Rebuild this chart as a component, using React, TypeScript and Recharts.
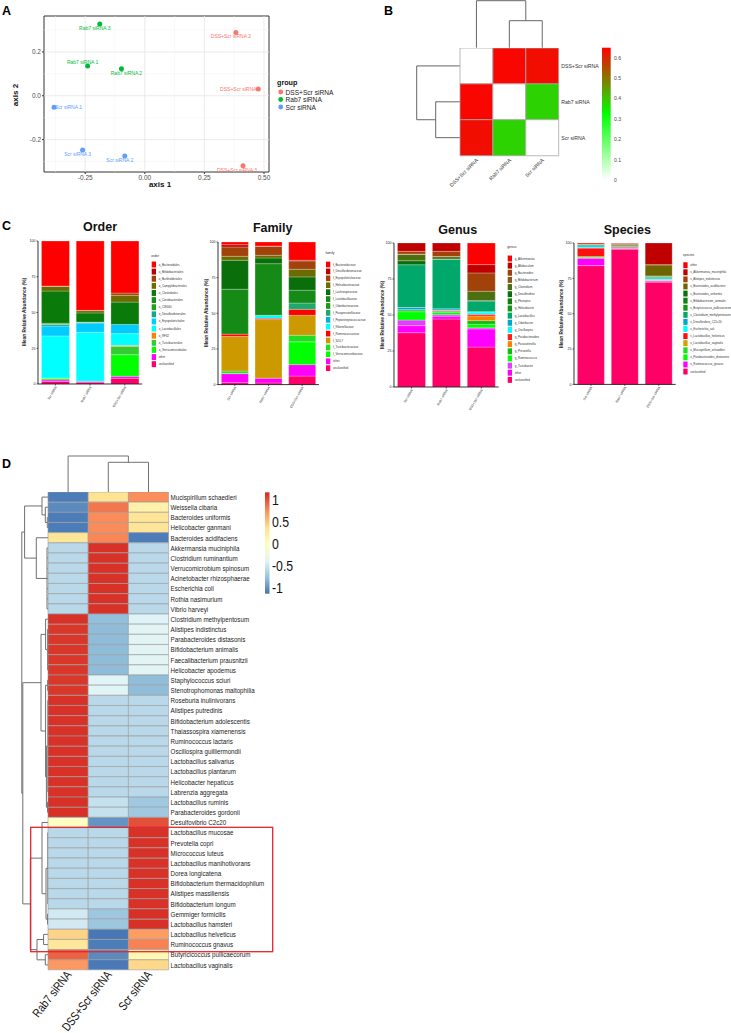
import React from 'react';
import {
  ScatterChart, Scatter, BarChart, Bar, Cell, XAxis, YAxis, ReferenceLine, ReferenceArea,
} from 'recharts';

const SANS = '"Liberation Sans", Arial, Helvetica, sans-serif';
// narrow look: Liberation Sans squeezed horizontally
const SQUEEZE = 0.82;

// ---------- A: PCoA ----------
const groupNames = ['DSS+Scr siRNA', 'Rab7 siRNA', 'Scr siRNA'];
const groupColors = ['#F8766D', '#00BA38', '#619CFF'];
const pcoaSamples = ['DSS+Scr siRNA 1', 'DSS+Scr siRNA 2', 'DSS+Scr siRNA 3', 'Rab7 siRNA 1', 'Rab7 siRNA 2', 'Rab7 siRNA 3', 'Scr siRNA 1', 'Scr siRNA 2', 'Scr siRNA 3'];
const pcoaGroup = [0, 0, 0, 1, 1, 1, 2, 2, 2];
const pcoaAxis1 = [0.476, 0.382, 0.412, -0.24, -0.098, -0.189, -0.381, -0.084, -0.261];
const pcoaAxis2 = [0.031, 0.289, -0.32, 0.136, 0.123, 0.327, -0.053, -0.275, -0.248];
const axis1Ticks = [-0.25, 0, 0.25, 0.5];
const axis1Minor = [-0.375, -0.125, 0.125, 0.375];
const axis2Ticks = [-0.2, 0, 0.2];
const axis2Minor = [-0.3, -0.1, 0.1, 0.3];

// label placement next to each point: dx, dy, anchor
const labelPlace: Record<string, [number, number, 'start' | 'middle' | 'end']> = {
  'DSS+Scr siRNA 1': [2, 0, 'end'],
  'DSS+Scr siRNA 2': [-5, 4, 'middle'],
  'DSS+Scr siRNA 3': [-6, 4, 'middle'],
  'Rab7 siRNA 1': [-5, -3.5, 'middle'],
  'Rab7 siRNA 2': [5, 4, 'middle'],
  'Rab7 siRNA 3': [-5, 4, 'middle'],
  'Scr siRNA 1': [1, 0, 'start'],
  'Scr siRNA 2': [-5, 4, 'middle'],
  'Scr siRNA 3': [-5, 4, 'middle'],
};

// ---------- B: distance heatmap ----------
const distNames = ['DSS+Scr siRNA', 'Rab7 siRNA', 'Scr siRNA'];
const distDss = [0, 0.64, 0.63];
const distRab7 = [0.64, 0, 0.38];
const distScr = [0.63, 0.38, 0];
const distTicks = [0, 0.1, 0.2, 0.3, 0.4, 0.5, 0.6];

// ---------- C: stacked abundance ----------
const stackGroups = ['Scr siRNA', 'Rab7 siRNA', 'DSS+Scr siRNA'];

const orderTaxa = ['o_Bacteroidales', 'o_Bifidobacteriales', 'o_Burkholderiales', 'o_Campylobacterales', 'o_Clostridiales', 'o_Coriobacteriales', 'o_CW040', 'o_Desulfovibrionales', 'o_Erysipelotrichales', 'o_Lactobacillales', 'o_RF32', 'o_Turicibacterales', 'o_Verrucomicrobiales', 'other', 'unclassified'];
const orderColors = ['#FF0000', '#C00000', '#A0420A', '#6B6B00', '#0A7A0A', '#158F15', '#1FA01F', '#17A589', '#00CCFF', '#00FFFF', '#FF7F00', '#33CC33', '#00FF00', '#FF00FF', '#FF0066'];
const orderScr = [31.5, 0, 0.2, 3.3, 22.5, 0.5, 0.3, 1.2, 6.9, 29.4, 0.1, 0.4, 0.9, 1.0, 1.8];
const orderRab7 = [48.5, 0, 0.2, 1.6, 6.4, 0.2, 0.2, 0.2, 6.5, 34.2, 0, 0.1, 0, 0.6, 1.3];
const orderDss = [36.4, 0, 1.6, 4.7, 15.6, 0, 0, 0, 6.5, 8.2, 0.7, 5.8, 15.1, 1.4, 4.0];

const familyTaxa = ['f_Bacteroidaceae', 'f_Desulfovibrionaceae', 'f_Erysipelotrichaceae', 'f_Helicobacteraceae', 'f_Lachnospiraceae', 'f_Lactobacillaceae', 'f_Odoribacteraceae', 'f_Paraprevotellaceae', 'f_Peptostreptococcaceae', 'f_Rikenellaceae', 'f_Ruminococcaceae', 'f_S24-7', 'f_Turicibacteraceae', 'f_Verrucomicrobiaceae', 'other', 'unclassified'];
const familyColors = ['#FF0000', '#C00000', '#A0420A', '#6B6B00', '#0A6E0A', '#168A16', '#1A9A1A', '#1FA86A', '#00B5C8', '#00FFFF', '#FF0000', '#CC9900', '#22DD22', '#00FF00', '#FF00FF', '#FF0066'];
const familyScr = [1.9, 1.6, 6.5, 2.8, 20.3, 31.5, 0, 0, 0, 0, 1.6, 24.3, 1.6, 0.2, 6.3, 1.4];
const familyRab7 = [2.8, 0.3, 6.2, 1.9, 4.0, 36.2, 0, 0, 0, 2.1, 0.9, 41.1, 0, 0, 3.3, 1.2];
const familyDss = [12.8, 0.5, 5.8, 5.4, 9.3, 9.0, 0, 4.4, 0, 0, 4.2, 14.0, 4.6, 16.0, 8.0, 6.0];

const genusTaxa = ['g_Akkermansia', 'g_Allobaculum', 'g_Bacteroides', 'g_Bifidobacterium', 'g_Clostridium', 'g_Desulfovibrio', 'g_Flexispira', 'g_Helicobacter', 'g_Lactobacillus', 'g_Odoribacter', 'g_Oscillospira', 'g_Parabacteroides', 'g_Parasutterella', 'g_Prevotella', 'g_Ruminococcus', 'g_Turicibacter', 'other', 'unclassified'];
const genusColors = ['#FF0000', '#C00000', '#A0420A', '#8C5A14', '#4C7010', '#0A6E0A', '#0F800F', '#139513', '#00A86B', '#00AACC', '#00FFFF', '#FF2020', '#FF8000', '#11BB11', '#00FF00', '#E040FB', '#FF00FF', '#FF0066'];
const genusScr = [0, 5.8, 1.9, 0.3, 4.3, 2.8, 0, 0, 29.6, 1.6, 0.2, 0, 0, 1.2, 5.8, 3.9, 4.9, 37.7];
const genusRab7 = [0, 5.8, 3.5, 0.2, 1.6, 0.3, 0, 0, 34.3, 0.9, 0.2, 0.7, 0, 0.7, 1.6, 1.0, 2.0, 47.2];
const genusDss = [15.0, 5.8, 12.7, 0, 6.5, 0.3, 0, 0, 7.4, 0.2, 1.6, 1.2, 3.2, 2.5, 2.5, 0.8, 12.6, 27.7];

const speciesTaxa = ['other', 's_Akkermansia_muciniphila', 's_Alistipes_indistinctus', 's_Bacteroides_acidifaciens', 's_Bacteroides_uniformis', 's_Bifidobacterium_animalis', 's_Butyricicoccus_pullicaecorum', 's_Clostridium_methylpentosum', 's_Desulfovibrio_C21c20', 's_Escherichia_coli', 's_Lactobacillus_helveticus', 's_Lactobacillus_vaginalis', 's_Mucispirillum_schaedleri', 's_Parabacteroides_distasonis', 's_Ruminococcus_gnavus', 'unclassified'];
const speciesColors = ['#FF0000', '#C00000', '#A0420A', '#6E6400', '#0A6E0A', '#0F800F', '#159515', '#00A86B', '#00AACC', '#00FFFF', '#FF1010', '#D4A000', '#22DD22', '#00FF00', '#FF00FF', '#FF0066'];
const speciesScr = [0.7, 0, 0, 0.3, 0.2, 0, 0.2, 0.7, 0.8, 0.7, 6.0, 0.2, 0.2, 0.8, 5.2, 84.0];
const speciesRab7 = [0.3, 0.3, 0.2, 0.8, 0.7, 0.2, 0.2, 0.2, 0, 0, 0.6, 0, 0, 0.2, 0.7, 95.6];
const speciesDss = [0, 15.3, 0.2, 7.8, 0.3, 0.2, 0.4, 1.0, 0.3, 0.6, 0.2, 0.2, 0.2, 0.2, 0.8, 72.3];

// ---------- D: species z-score heatmap ----------
const dCols = ['Rab7 siRNA', 'DSS+Scr siRNA', 'Scr siRNA'];
const dSpecies = ['Mucispirillum schaedleri', 'Weissella cibaria', 'Bacteroides uniformis', 'Helicobacter ganmani', 'Bacteroides acidifaciens', 'Akkermansia muciniphila', 'Clostridium ruminantium', 'Verrucomicrobium spinosum', 'Acinetobacter rhizosphaerae', 'Escherichia coli', 'Rothia nasimurium', 'Vibrio harveyi', 'Clostridium methylpentosum', 'Alistipes indistinctus', 'Parabacteroides distasonis', 'Bifidobacterium animalis', 'Faecalibacterium prausnitzii', 'Helicobacter apodemus', 'Staphylococcus sciuri', 'Stenotrophomonas maltophilia', 'Roseburia inulinivorans', 'Alistipes putredinis', 'Bifidobacterium adolescentis', 'Thalassospira xiamenensis', 'Ruminococcus lactaris', 'Oscillospira guilliermondii', 'Lactobacillus salivarius', 'Lactobacillus plantarum', 'Helicobacter hepaticus', 'Labrenzia aggregata', 'Lactobacillus ruminis', 'Parabacteroides gordonii', 'Desulfovibrio C2c20', 'Lactobacillus mucosae', 'Prevotella copri', 'Micrococcus luteus', 'Lactobacillus manihotivorans', 'Dorea longicatena', 'Bifidobacterium thermacidophilum', 'Alistipes massiliensis', 'Bifidobacterium longum', 'Gemmiger formicilis', 'Lactobacillus hamsteri', 'Lactobacillus helveticus', 'Ruminococcus gnavus', 'Butyricicoccus pullicaecorum', 'Lactobacillus vaginalis'];
const dRab7 = [-1.12, -1.05, -1.12, -1.12, 0.32, -0.58, -0.58, -0.58, -0.58, -0.58, -0.58, -0.58, 1.155, 1.13, 1.13, 1.13, 1.13, 1.13, 1.13, 1.13, 1.155, 1.155, 1.155, 1.155, 1.155, 1.155, 1.155, 1.155, 1.155, 1.155, 1.16, 1.16, -0.03, -0.58, -0.58, -0.58, -0.58, -0.58, -0.58, -0.58, -0.58, -0.46, -0.46, 0.45, 0.3, 0.95, 0.72];
const dDss = [0.35, 0.87, 0.78, 0.78, 0.8, 1.155, 1.155, 1.155, 1.155, 1.155, 1.155, 1.155, -0.77, -0.79, -0.79, -0.79, -0.79, -0.79, -0.37, -0.37, -0.58, -0.58, -0.58, -0.58, -0.58, -0.58, -0.58, -0.58, -0.58, -0.58, -0.52, -0.52, -1.0, -0.58, -0.58, -0.58, -0.58, -0.58, -0.58, -0.58, -0.58, -0.715, -0.715, -1.15, -1.12, -1.05, -1.14];
const dScr = [0.77, 0.18, 0.34, 0.34, -1.12, -0.58, -0.58, -0.58, -0.58, -0.58, -0.58, -0.58, -0.39, -0.36, -0.36, -0.36, -0.36, -0.36, -0.78, -0.78, -0.58, -0.58, -0.58, -0.58, -0.58, -0.58, -0.58, -0.58, -0.58, -0.58, -0.7, -0.7, 1.03, 1.155, 1.155, 1.155, 1.155, 1.155, 1.155, 1.155, 1.155, 1.16, 1.16, 0.7, 0.82, 0.1, 0.42];
const dLegendTicks = [1, 0.5, 0, -0.5, -1];

// ---------- dendrograms ----------
type Tree = number | { h: number; ch: Tree[] };
type Seg = [number, number, number, number];

const bColTree: Tree = { h: 47, ch: [0, { h: 27, ch: [1, 2] }] };
const bRowTree: Tree = { h: 43.3, ch: [0, { h: 24.3, ch: [1, 2] }] };
const dColTree: Tree = { h: 36.3, ch: [0, { h: 30, ch: [1, 2] }] };
const dRowTree: Tree = {
  h: 26.2,
  ch: [
    {
      h: 23.4,
      ch: [
        { h: 6, ch: [0, { h: 2.7, ch: [1, { h: 0.7, ch: [2, 3] }] }] },
        { h: 11.7, ch: [4, { h: 1.0, ch: [5, 6, 7, 8, 9, 10, 11] }] },
      ],
    },
    {
      h: 25.2,
      ch: [
        {
          h: 7,
          ch: [
            { h: 2.4, ch: [12, { h: 0.4, ch: [13, 14, 15, 16, 17] }] },
            { h: 2.4, ch: [{ h: 0.4, ch: [18, 19] }, { h: 1.6, ch: [{ h: 0.15, ch: [20, 21, 22, 23, 24, 25, 26, 27, 28, 29] }, { h: 0.5, ch: [30, 31] }] }] },
          ],
        },
        {
          h: 17.7,
          ch: [
            { h: 6, ch: [32, { h: 2, ch: [{ h: 0.2, ch: [33, 34, 35, 36, 37, 38, 39, 40] }, { h: 0.5, ch: [41, 42] }] }] },
            { h: 11, ch: [{ h: 4.4, ch: [43, 44] }, { h: 2.7, ch: [45, 46] }] },
          ],
        },
      ],
    },
  ],
};

function walk(t: Tree, segs: Seg[]): { pos: number; h: number } {
  if (typeof t === 'number') return { pos: t + 0.5, h: 0 };
  const kids = t.ch.map((c) => walk(c, segs));
  kids.forEach((k) => segs.push([k.pos, k.h, k.pos, t.h]));
  const lo = kids[0].pos;
  const hi = kids[kids.length - 1].pos;
  segs.push([lo, t.h, hi, t.h]);
  return { pos: (lo + hi) / 2, h: t.h };
}

function hexToRgb(h: string) {
  const n = parseInt(h.slice(1), 16);
  return [(n >> 16) & 255, (n >> 8) & 255, n & 255];
}
function mix(a: string, b: string, t: number) {
  const A = hexToRgb(a);
  const B = hexToRgb(b);
  const c = A.map((v, i) => Math.round(v + (B[i] - v) * t));
  return `rgb(${c[0]},${c[1]},${c[2]})`;
}

const heatPalette = ['#4575B4', '#91BFDB', '#E0F3F8', '#FFFFBF', '#FEE090', '#FC8D59', '#D73027'];
const heatLo = -1.16;
const heatHi = 1.16;
function heatColor(v: number) {
  const p = Math.max(0, Math.min(6, ((v - heatLo) / (heatHi - heatLo)) * 6));
  const i = Math.min(5, Math.floor(p));
  return mix(heatPalette[i], heatPalette[i + 1], p - i);
}

const distMax = 0.648;
function distColor(v: number) {
  const t = v / distMax;
  if (t <= 0.5) return mix('#FFFFFF', '#00FF00', t / 0.5);
  return mix('#00FF00', '#FF0000', Math.min(1, (t - 0.5) / 0.5));
}

function Dendro({ tree, n, hMax, side, left, top, width, height, color }: {
  tree: Tree; n: number; hMax: number; side: 'top' | 'left'; left: number; top: number; width: number; height: number; color: string;
}) {
  const segs: Seg[] = [];
  walk(tree, segs);
  const isTop = side === 'top';
  return (
    <div style={{ position: 'absolute', left, top }}>
      <ScatterChart width={width} height={height} margin={{ top: 0, right: 0, bottom: 0, left: 0 }}>
        <XAxis type="number" dataKey="x" domain={isTop ? [0, n] : [0, hMax]} reversed={!isTop} allowDataOverflow hide />
        <YAxis type="number" dataKey="y" domain={isTop ? [0, hMax] : [0, n]} reversed={!isTop} allowDataOverflow hide />
        {segs.map(([p1, h1, p2, h2], i) => (
          <ReferenceLine
            key={i}
            segment={isTop ? [{ x: p1, y: h1 }, { x: p2, y: h2 }] : [{ x: h1, y: p1 }, { x: h2, y: p2 }]}
            stroke={color}
            strokeWidth={1}
            ifOverflow="visible"
          />
        ))}
      </ScatterChart>
    </div>
  );
}

function PcoaPanel() {
  const series = groupNames.map((g, gi) =>
    pcoaSamples
      .map((s, i) => ({ name: s, x: pcoaAxis1[i], y: pcoaAxis2[i], g: pcoaGroup[i] }))
      .filter((p) => p.g === gi),
  );
  return (
    <div style={{ position: 'absolute', left: 0, top: 0 }}>
      <ScatterChart width={275} height={195} margin={{ top: 16, right: 6, bottom: 0, left: 0 }}>
        <XAxis type="number" dataKey="x" domain={[-0.423, 0.521]} ticks={axis1Ticks} allowDataOverflow
          tickFormatter={(v: number) => v.toFixed(2)} height={23} axisLine={false}
          tickLine={{ stroke: '#333' }} tickSize={2} tickMargin={1}
          tick={{ fontSize: 6.5, fill: '#4d4d4d', fontFamily: SANS }} />
        <YAxis type="number" dataKey="y" domain={[-0.348, 0.364]} ticks={axis2Ticks} allowDataOverflow
          tickFormatter={(v: number) => v.toFixed(1)} width={44} axisLine={false}
          tickLine={{ stroke: '#333' }} tickSize={2} tickMargin={1}
          tick={{ fontSize: 6.5, fill: '#4d4d4d', fontFamily: SANS }} />
        {axis1Minor.map((v) => <ReferenceLine key={'xm' + v} x={v} stroke="#f3f3f3" strokeWidth={0.5} />)}
        {axis2Minor.map((v) => <ReferenceLine key={'ym' + v} y={v} stroke="#f3f3f3" strokeWidth={0.5} />)}
        {axis1Ticks.map((v) => <ReferenceLine key={'x' + v} x={v} stroke="#e6e6e6" strokeWidth={0.8} />)}
        {axis2Ticks.map((v) => <ReferenceLine key={'y' + v} y={v} stroke="#e6e6e6" strokeWidth={0.8} />)}
        <ReferenceArea x1={-0.423} x2={0.521} y1={-0.348} y2={0.364} fill="#fff" fillOpacity={0} stroke="#333" strokeWidth={1} ifOverflow="visible" />
        {series.map((pts, gi) => (
          <Scatter
            key={gi}
            data={pts}
            fill={groupColors[gi]}
            isAnimationActive={false}
            shape={(p: any) => {
              const [dx, dy, anchor] = labelPlace[p.payload.name];
              return (
                <g>
                  <text x={p.cx + dx} y={p.cy + dy} textAnchor={anchor} dominantBaseline="central"
                    fontSize={5} fill={groupColors[gi]} fontFamily={SANS}>{p.payload.name}</text>
                  <circle cx={p.cx} cy={p.cy} r={2.5} fill={groupColors[gi]} />
                </g>
              );
            }}
          />
        ))}
      </ScatterChart>
    </div>
  );
}

function DistHeat() {
  const data = distNames.map((n) => ({ name: n, c0: 1, c1: 1, c2: 1 }));
  const matrix = [distDss, distRab7, distScr];
  const padL = 24;
  return (
    <div style={{ position: 'absolute', left: 460 - padL, top: 47.7 }}>
      <BarChart layout="vertical" width={padL + 98.7 + 62} height={107.6 + 40} data={data}
        margin={{ top: 0, right: 0, bottom: 0, left: padL }} barCategoryGap={0} barGap={0}>
        <XAxis type="number" domain={[0, 3]} ticks={[0.5, 1.5, 2.5]} height={40} axisLine={false}
          tickLine={false} tickSize={0} tickMargin={0} interval={0}
          tick={(p: any) => (
            <text x={p.x + 2} y={p.y + 5} transform={`rotate(-45 ${p.x + 2} ${p.y + 5})`} textAnchor="end"
              fontSize={5.2} fill="#333" fontFamily={SANS}>{distNames[Math.floor(p.payload.value)]}</text>
          )} />
        <YAxis type="category" dataKey="name" orientation="right" width={62} axisLine={false}
          tickLine={false} tickSize={0} tickMargin={0} interval={0}
          tick={(p: any) => (
            <text x={p.x + 2.5} y={p.y} dominantBaseline="central" fontSize={5.2} fill="#333"
              fontFamily={SANS}>{p.payload.value}</text>
          )} />
        {[0, 1, 2].map((j) => (
          <Bar key={j} dataKey={'c' + j} stackId="h" isAnimationActive={false}>
            {data.map((_, i) => <Cell key={i} fill={distColor(matrix[i][j])} stroke="#a8a8a8" strokeWidth={0.8} />)}
          </Bar>
        ))}
      </BarChart>
    </div>
  );
}

function StackPanel({ taxa, colors, values, axisX, plotR, top, bottom }: {
  taxa: string[]; colors: string[]; values: number[][]; axisX: number; plotR: number; top: number; bottom: number;
}) {
  const yW = 14;
  const xH = 24;
  const mTop = 4;
  const data = stackGroups.map((g, gi) => {
    const row: Record<string, number | string> = { name: g };
    taxa.forEach((_, ti) => {
      row['t' + ti] = values[gi][ti];
    });
    return row;
  });
  const stackOrder = taxa.map((_, i) => taxa.length - 1 - i);
  return (
    <div style={{ position: 'absolute', left: axisX - yW, top: top - mTop }}>
      <BarChart width={yW + plotR - axisX + 2} height={mTop + bottom - top + xH} data={data}
        margin={{ top: mTop, right: 2, bottom: 0, left: 0 }} barCategoryGap="10%">
        <XAxis dataKey="name" height={xH} axisLine={{ stroke: '#000', strokeWidth: 0.8 }}
          tickLine={{ stroke: '#000', strokeWidth: 0.6 }} tickSize={1.5} tickMargin={0} interval={0}
          tick={(p: any) => (
            <text x={p.x + 1.5} y={p.y + 1.5} transform={`rotate(-60 ${p.x + 1.5} ${p.y + 1.5})`}
              textAnchor="end" fontSize={3.3} fill="#333" fontFamily={SANS}>{p.payload.value}</text>
          )} />
        <YAxis type="number" width={yW} domain={[0, 100]} ticks={[0, 25, 50, 75, 100]}
          axisLine={{ stroke: '#000', strokeWidth: 0.8 }} tickLine={{ stroke: '#000', strokeWidth: 0.6 }}
          tickSize={1.5} tickMargin={1} tick={{ fontSize: 3.6, fill: '#222', fontFamily: SANS }} />
        {stackOrder.map((ti) => (
          <Bar key={ti} dataKey={'t' + ti} stackId="s" fill={colors[ti]} stroke="#fff" strokeWidth={0.25}
            isAnimationActive={false} />
        ))}
      </BarChart>
    </div>
  );
}

function SpeciesHeat() {
  const data = dSpecies.map((n) => ({ name: n, c0: 1, c1: 1, c2: 1 }));
  const cols = [dRab7, dDss, dScr];
  const padL = 46;
  return (
    <div style={{ position: 'absolute', left: 47.7 - padL, top: 492.3 }}>
      <BarChart layout="vertical" width={padL + 120.6 + 112} height={478 + 72} data={data}
        margin={{ top: 0, right: 0, bottom: 0, left: padL }} barCategoryGap={0} barGap={0}>
        <XAxis type="number" domain={[0, 3]} ticks={[0.5, 1.5, 2.5]} height={72} axisLine={false}
          tickLine={false} tickSize={0} tickMargin={0} interval={0}
          tick={(p: any) => (
            <text transform={`translate(${p.x + 4} ${p.y + 5}) rotate(-52) scale(${SQUEEZE} 1)`} textAnchor="end"
              fontSize={12.2} fill="#111" fontFamily={SANS}>{dCols[Math.floor(p.payload.value)]}</text>
          )} />
        <YAxis type="category" dataKey="name" orientation="right" width={112} axisLine={false}
          tickLine={false} tickSize={0} tickMargin={0} interval={0}
          tick={(p: any) => (
            <text transform={`translate(${p.x + 2} ${p.y}) scale(${SQUEEZE} 1)`} dominantBaseline="central"
              fontSize={7.6} fill="#1a1a1a" fontFamily={SANS}>{p.payload.value}</text>
          )} />
        {cols.map((vals, j) => (
          <Bar key={j} dataKey={'c' + j} stackId="h" isAnimationActive={false}>
            {vals.map((v, i) => <Cell key={i} fill={heatColor(v)} stroke="#9a9a9a" strokeWidth={0.6} />)}
          </Bar>
        ))}
      </BarChart>
    </div>
  );
}

function LegendList({ title, taxa, colors, x, titleY, y0, step }: {
  title: string; taxa: string[]; colors: string[]; x: number; titleY: number; y0: number; step: number;
}) {
  return (
    <g fontFamily={SANS}>
      <text x={x} y={titleY} fontSize={3.4} fill="#333" dominantBaseline="central">{title}</text>
      {taxa.map((t, i) => (
        <g key={t}>
          <rect x={x + 0.5} y={y0 + i * step - (step - 1.2) / 2} width={4.3} height={step - 1.2} fill={colors[i]} />
          <text x={x + 7.5} y={y0 + i * step} fontSize={2.9} fill="#333" dominantBaseline="central">{t}</text>
        </g>
      ))}
    </g>
  );
}

function Overlay() {
  const dTop = 492.3;
  const dBot = 593.7;
  const dHi = 1.19;
  const dLo = -1.12;
  const dY = (v: number) => dTop + ((dHi - v) / (dHi - dLo)) * (dBot - dTop);
  const bTop = 47.7;
  const bBot = 180;
  const bY = (v: number) => bBot - (v / distMax) * (bBot - bTop);
  const panelLetter = { fontSize: 12.5, fontWeight: 700, fill: '#000', fontFamily: SANS } as const;
  const titleStyle = { fontSize: 12.5, fontWeight: 700, fill: '#111', fontFamily: SANS, textAnchor: 'middle' as const, dominantBaseline: 'central' as const };
  const yTitle = (x: number, y: number) => (
    <text x={x} y={y} transform={`rotate(-90 ${x} ${y})`} textAnchor="middle" dominantBaseline="central"
      fontSize={4.8} fontWeight={700} fill="#222" fontFamily={SANS}>Mean Relative Abundance (%)</text>
  );
  return (
    <svg width={731} height={1033} style={{ position: 'absolute', left: 0, top: 0, pointerEvents: 'none' }}>
      <defs>
        <linearGradient id="dGrad" x1="0" y1="0" x2="0" y2="1">
          {heatPalette.map((c, k) => {
            const v = heatHi - (k * (heatHi - heatLo)) / 6;
            const off = Math.max(0, Math.min(1, (dHi - v) / (dHi - dLo)));
            return <stop key={k} offset={off} stopColor={heatPalette[6 - k]} />;
          })}
        </linearGradient>
        <linearGradient id="bGrad" x1="0" y1="0" x2="0" y2="1">
          <stop offset="0" stopColor="#FF0000" />
          <stop offset="0.5" stopColor="#00FF00" />
          <stop offset="1" stopColor="#FFFFFF" />
        </linearGradient>
      </defs>

      {/* panel letters */}
      <text x={2} y={15} {...panelLetter}>A</text>
      <text x={384} y={15} {...panelLetter}>B</text>
      <text x={2} y={230} {...panelLetter}>C</text>
      <text x={2} y={468} {...panelLetter}>D</text>

      {/* A titles and legend */}
      <text x={160} y={184} textAnchor="middle" dominantBaseline="central" fontSize={8} fontWeight={700} fill="#111" fontFamily={SANS}>axis 1</text>
      <text x={15} y={95} transform="rotate(-90 15 95)" textAnchor="middle" dominantBaseline="central" fontSize={8} fontWeight={700} fill="#111" fontFamily={SANS}>axis 2</text>
      <text x={277} y={82} dominantBaseline="central" fontSize={7.2} fontWeight={700} fill="#111" fontFamily={SANS}>group</text>
      {groupNames.map((g, i) => (
        <g key={g}>
          <circle cx={280.7} cy={92 + i * 7.5} r={2.4} fill={groupColors[i]} />
          <text x={285.5} y={92 + i * 7.5} dominantBaseline="central" fontSize={6.6} fill="#1a1a1a" fontFamily={SANS}>{g}</text>
        </g>
      ))}

      {/* B colour bar */}
      <rect x={602} y={bTop} width={8.7} height={bBot - bTop} fill="url(#bGrad)" />
      {distTicks.map((v) => (
        <text key={v} x={614} y={bY(v)} dominantBaseline="central" fontSize={5} fill="#444" fontFamily={SANS}>{v === 0 ? '0' : v.toFixed(1)}</text>
      ))}

      {/* C titles, axis titles, legends */}
      <text x={100} y={227} {...titleStyle}>Order</text>
      <text x={272.7} y={228} {...titleStyle}>Family</text>
      <text x={457.7} y={230} {...titleStyle}>Genus</text>
      <text x={627.3} y={230} {...titleStyle}>Species</text>
      {yTitle(24, 312)}
      {yTitle(206.7, 313)}
      {yTitle(382.3, 315)}
      {yTitle(561.7, 314)}
      <LegendList title="order" taxa={orderTaxa} colors={orderColors} x={151.2} titleY={256} y0={264.5} step={7.12} />
      <LegendList title="family" taxa={familyTaxa} colors={familyColors} x={325.5} titleY={252.7} y0={264.5} step={6.91} />
      <LegendList title="genus" taxa={genusTaxa} colors={genusColors} x={507.2} titleY={247.3} y0={258.5} step={7.14} />
      <LegendList title="species" taxa={speciesTaxa} colors={speciesColors} x={682.8} titleY={255} y0={265.2} step={7.09} />

      {/* D colour bar */}
      <rect x={265} y={dTop} width={4.5} height={dBot - dTop} fill="url(#dGrad)" />
      {dLegendTicks.map((v) => (
        <text key={v} transform={`translate(272 ${dY(v)}) scale(0.88 1)`} dominantBaseline="central" fontSize={14} fill="#111" fontFamily={SANS}>{String(v)}</text>
      ))}

      {/* highlighted block */}
      <rect x={30.7} y={827.3} width={242} height={124.4} fill="none" stroke="#E5252B" strokeWidth={1.3} />
    </svg>
  );
}

export default function App() {
  return (
    <div style={{ position: 'absolute', left: 0, top: 0, width: 731, height: 1033, background: '#fff', fontFamily: SANS }}>
      <PcoaPanel />
      <Dendro tree={bColTree} n={3} hMax={47.7} side="top" left={460} top={0} width={98.7} height={47.7} color="#666" />
      <Dendro tree={bRowTree} n={3} hMax={48} side="left" left={412} top={47.7} width={48} height={107.6} color="#666" />
      <DistHeat />
      <StackPanel taxa={orderTaxa} colors={orderColors} values={[orderScr, orderRab7, orderDss]} axisX={38.3} plotR={142.5} top={240.7} bottom={383.7} />
      <StackPanel taxa={familyTaxa} colors={familyColors} values={[familyScr, familyRab7, familyDss]} axisX={217.5} plotR={318.5} top={241.7} bottom={384.3} />
      <StackPanel taxa={genusTaxa} colors={genusColors} values={[genusScr, genusRab7, genusDss]} axisX={394.3} plotR={499} top={243.3} bottom={387.3} />
      <StackPanel taxa={speciesTaxa} colors={speciesColors} values={[speciesScr, speciesRab7, speciesDss]} axisX={574.3} plotR={676} top={243.3} bottom={384.7} />
      <Dendro tree={dColTree} n={3} hMax={42.3} side="top" left={47.7} top={450} width={120.6} height={42.3} color="#707070" />
      <Dendro tree={dRowTree} n={47} hMax={28} side="left" left={19.7} top={492.3} width={28} height={478} color="#707070" />
      <SpeciesHeat />
      <Overlay />
    </div>
  );
}
